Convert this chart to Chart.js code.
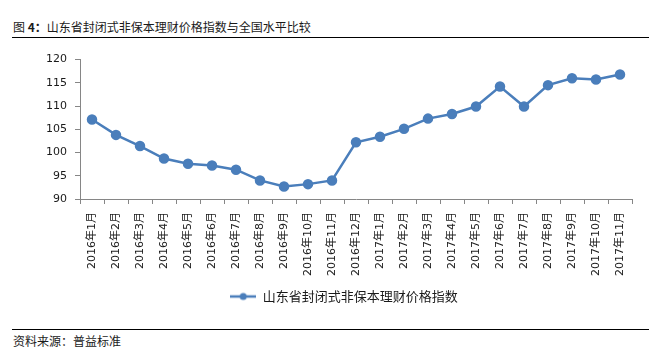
<!DOCTYPE html>
<html lang="zh">

<head>
    <meta charset="UTF-8">
    <title>山东省封闭式非保本理财价格指数</title>
    <script src="https://cdn.jsdelivr.net/npm/chart.js"></script>
    <style>
        body {
            margin: 0;
            width: 660px;
            height: 363px;
            background: #fff;
            position: relative;
            overflow: hidden;
            font-family: "Noto Sans CJK SC", sans-serif;
            color: #1a1a1a;
        }

        .titulo {
            position: absolute;
            left: 13px;
            top: 18px;
            font-size: 12px;
            line-height: 18px;
        }

        .titulo b {
            font-weight: bold;
        }

        .linea {
            position: absolute;
            left: 12px;
            width: 637px;
            height: 1px;
            background: #000;
        }

        .fuente {
            position: absolute;
            left: 13px;
            top: 332px;
            font-size: 12px;
            line-height: 18px;
        }

        #grafica-box {
            position: absolute;
            left: 0;
            top: 45px;
            width: 660px;
            height: 270px;
        }
    </style>
</head>

<body>
    <div class="titulo">图 <b>4：</b>山东省封闭式非保本理财价格指数与全国水平比较</div>
    <div class="linea" style="top: 37px;"></div>

    <div id="grafica-box">
        <canvas id="grafica"></canvas>
    </div>

    <div class="linea" style="top: 329px;"></div>
    <div class="fuente">资料来源：普益标准</div>

    <script>
        // datos
        const meses = [
            '2016年1月', '2016年2月', '2016年3月', '2016年4月', '2016年5月', '2016年6月',
            '2016年7月', '2016年8月', '2016年9月', '2016年10月', '2016年11月', '2016年12月',
            '2017年1月', '2017年2月', '2017年3月', '2017年4月', '2017年5月', '2017年6月',
            '2017年7月', '2017年8月', '2017年9月', '2017年10月', '2017年11月'
        ];
        const indiceShandong = [
            107.1, 103.8, 101.4, 98.7, 97.6, 97.2, 96.3, 94.0, 92.7, 93.2, 94.0, 102.2,
            103.4, 105.1, 107.3, 108.3, 109.9, 114.2, 109.9, 114.5, 116.0, 115.7, 116.8
        ];
        const nombreSerie = '山东省封闭式非保本理财价格指数';
        const ejeY = { min: 90, max: 120, paso: 5 };

        const azul = '#4a7ebb';
        const gris = '#868686';
        const fuenteNum = '"DejaVu Sans", "Noto Sans CJK SC", sans-serif';

        // icono de la leyenda: linea con punto
        const icono = document.createElement('canvas');
        icono.width = 26;
        icono.height = 10;
        const ic = icono.getContext('2d');
        ic.strokeStyle = azul;
        ic.lineWidth = 2.5;
        ic.beginPath();
        ic.moveTo(0, 5);
        ic.lineTo(26, 5);
        ic.stroke();
        ic.fillStyle = azul;
        ic.beginPath();
        ic.arc(13, 5, 3.5, 0, Math.PI * 2);
        ic.fill();

        const ctx = document.getElementById('grafica').getContext('2d');
        const chart = new Chart(ctx, {
            type: 'line',
            data: {
                labels: meses,
                datasets: [{
                    label: nombreSerie,
                    data: indiceShandong,
                    borderColor: azul,
                    backgroundColor: azul,
                    borderWidth: 2.5,
                    pointRadius: 4,
                    pointHoverRadius: 4,
                    tension: 0
                }]
            },
            options: {
                responsive: true,
                maintainAspectRatio: false,
                animation: false,
                layout: {
                    padding: { top: 9, right: 0, left: 28, bottom: 2 }
                },
                scales: {
                    x: {
                        offset: true,
                        grid: {
                            offset: true,
                            drawOnChartArea: false,
                            drawTicks: true,
                            tickLength: 5,
                            tickColor: gris
                        },
                        border: { color: gris, width: 1 },
                        ticks: {
                            autoSkip: false,
                            minRotation: 90,
                            maxRotation: 90,
                            padding: 8,
                            color: '#1a1a1a',
                            font: { family: fuenteNum, size: 11 }
                        },
                        afterFit: (s) => { s.height = 81; }
                    },
                    y: {
                        min: ejeY.min,
                        max: ejeY.max,
                        grid: {
                            drawOnChartArea: false,
                            drawTicks: true,
                            tickLength: 5,
                            tickColor: gris
                        },
                        border: { color: gris, width: 1 },
                        ticks: {
                            stepSize: ejeY.paso,
                            padding: 8,
                            color: '#1a1a1a',
                            font: { family: fuenteNum, size: 11 }
                        },
                        afterFit: (s) => { s.width = 52; }
                    },
                    // eje vacio solo para dejar el hueco de la derecha
                    derecha: {
                        position: 'right',
                        display: true,
                        grid: { display: false },
                        border: { display: false },
                        ticks: { display: false },
                        afterFit: (s) => { s.width = 28; }
                    }
                },
                plugins: {
                    legend: {
                        position: 'bottom',
                        labels: {
                            usePointStyle: true,
                            pointStyle: icono,
                            pointStyleWidth: 26,
                            padding: 10,
                            color: '#1a1a1a',
                            font: { family: '"Noto Sans CJK SC", sans-serif', size: 13 }
                        }
                    },
                    tooltip: { enabled: false }
                }
            }
        });
    </script>
</body>

</html>
